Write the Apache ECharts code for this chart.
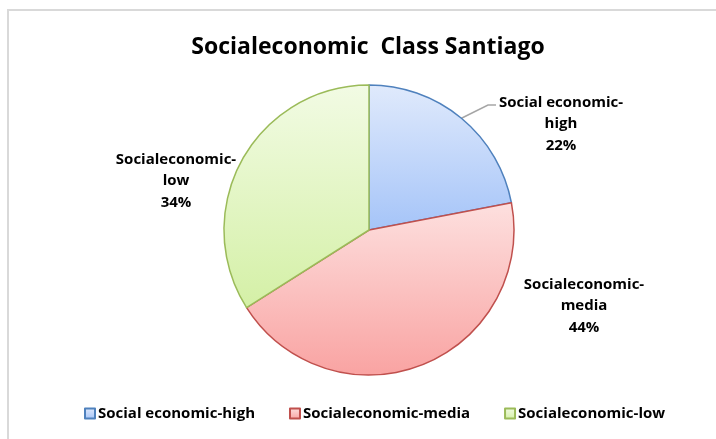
<!DOCTYPE html>
<html>
<head>
<meta charset="utf-8">
<script src="https://cdn.jsdelivr.net/npm/echarts@6/dist/echarts.min.js"></script>
<style>html,body{margin:0;padding:0;background:#fff;}#c{width:716px;height:439px;}</style>
</head>
<body>
<div id="c"></div>
<script>
const categories = ['Social economic-high', 'Socialeconomic-media', 'Socialeconomic-low'];
const values = [22, 44, 34];
const borderColors = ['#4f81bd', '#c0504d', '#9bbb59'];
const topColors = ['#e0eafc', '#fde0df', '#f2fbe4'];
const bottomColors = ['#a5c4f8', '#f9a3a2', '#d4f0a6'];

const FONT = 'Open Sans';
const chart = echarts.init(document.getElementById('c'));

const labelSpots = [
  {x: 561, y: 124},
  {x: 584, y: 306},
  {x: 176, y: 181}
];

chart.setOption({
  animation: false,
  backgroundColor: '#fff',
  title: {
    text: 'Socialeconomic  Class Santiago',
    left: 363, textAlign: 'center', top: 31,
    textStyle: {fontFamily: FONT, fontWeight: 'bold', fontSize: 23, color: '#000'}
  },
  legend: {
    left: 84, top: 406, padding: 0,
    itemWidth: 10, itemHeight: 10, itemGap: 34,
    icon: 'rect',
    textStyle: {fontFamily: FONT, fontWeight: 'bold', fontSize: 15, color: '#000', padding: [0,0,0,-2]},
    data: categories
  },
  graphic: [{
    type: 'rect', shape: {x: 8, y: 10, width: 730, height: 460},
    style: {fill: 'none', stroke: '#d9d9d9', lineWidth: 2}, silent: true, z: -1
  }],
  series: [{
    type: 'pie',
    center: [369, 230],
    radius: 145,
    startAngle: 90,
    clockwise: true,
    data: categories.map((n, i) => ({
      name: n, value: values[i],
      itemStyle: {
        borderColor: borderColors[i], borderWidth: 1.5,
        color: new echarts.graphic.LinearGradient(0, 0, 0, 1, [
          {offset: 0, color: topColors[i]}, {offset: 1, color: bottomColors[i]}
        ])
      },
      labelLine: {show: i === 0}
    })),
    label: {
      show: true,
      position: 'outside',
      formatter: p => p.name.replace('-', '-\n') + '\n' + Math.round(p.percent) + '%',
      fontFamily: FONT, fontWeight: 'bold', fontSize: 15, color: '#000',
      lineHeight: 21.5, align: 'center'
    },
    labelLine: {lineStyle: {color: '#a6a6a6', width: 1.5}, length: 15, length2: 10},
    labelLayout: function (p) {
      const s = labelSpots[p.dataIndex];
      const out = {x: s.x, y: s.y, align: 'center', verticalAlign: 'middle'};
      if (p.dataIndex === 0 && p.labelLinePoints) {
        const a = p.labelLinePoints[0];
        out.labelLinePoints = [a, [s.x - 73, s.y - 19], [s.x - 65, s.y - 19]];
      }
      return out;
    },
    emphasis: {disabled: true}
  }]
});
</script>
</body>
</html>
